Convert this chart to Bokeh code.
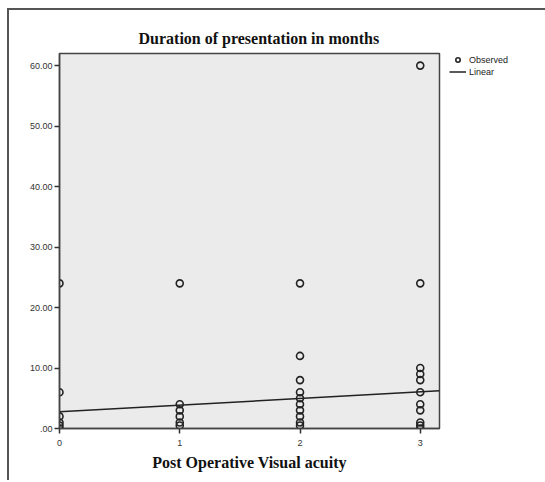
from bokeh.plotting import figure
from bokeh.models import Range1d, FixedTicker, Legend, LegendItem, ColumnDataSource
from bokeh.embed import file_html
from bokeh.resources import INLINE

# Observed data (Post Operative Visual acuity vs duration in months)
acuity_0 = [24, 6, 2, 1, 0.5, 0]
acuity_1 = [24, 4, 3, 2, 1, 0.5]
acuity_2 = [24, 12, 8, 6, 5, 4, 3, 2, 1, 0.5]
acuity_3 = [60, 24, 10, 9, 8, 6, 4, 3, 1, 0.5, 0]
# Linear fit
fit_intercept = 2.75
fit_slope = 1.1
fit_x = [0, 3.16]

y_ticks = [0, 10, 20, 30, 40, 50, 60]
y_tick_labels = [".00", "10.00", "20.00", "30.00", "40.00", "50.00", "60.00"]
x_ticks = [0, 1, 2, 3]

xs, ys = [], []
for xv, vals in zip(x_ticks, [acuity_0, acuity_1, acuity_2, acuity_3]):
    xs += [xv] * len(vals)
    ys += vals
src = ColumnDataSource(dict(x=xs, y=ys))
line_src = ColumnDataSource(dict(x=fit_x, y=[fit_intercept + fit_slope * v for v in fit_x]))

p = figure(output_backend="svg", toolbar_location=None,
           x_range=Range1d(0, 3.16), y_range=Range1d(0, 62),
           frame_width=380, frame_height=375,
           min_border_left=50, min_border_top=43, min_border_bottom=52, min_border_right=98)

p.title.text = "Duration of presentation in months"
p.title.text_font = "Liberation Serif"
p.title.text_font_size = "16px"
p.title.text_font_style = "bold"
p.title.text_color = "#111111"
p.title.align = "left"
p.title.offset = 79
p.title.standoff = 14

p.background_fill_color = "#ebebeb"
p.border_fill_color = "white"
p.outline_line_color = "#444444"
p.outline_line_width = 1.5
p.grid.visible = False

for ax in (p.xaxis[0], p.yaxis[0]):
    ax.axis_line_color = "#444444"
    ax.axis_line_width = 1.5
    ax.major_tick_line_color = "#333333"
    ax.major_tick_line_width = 1.5
    ax.major_tick_out = 5
    ax.major_tick_in = 0
    ax.minor_tick_line_color = None
    ax.major_label_text_font = "Liberation Sans"
    ax.major_label_text_font_size = "9px"
    ax.major_label_text_color = "#333333"

p.yaxis.ticker = FixedTicker(ticks=y_ticks)
p.yaxis.major_label_overrides = {t: l for t, l in zip(y_ticks, y_tick_labels)}
p.yaxis.major_label_standoff = 2
p.xaxis.ticker = FixedTicker(ticks=x_ticks)
p.xaxis.major_label_standoff = 6
p.xaxis.axis_label = "Post Operative Visual acuity"
p.xaxis.axis_label_text_font = "Liberation Serif"
p.xaxis.axis_label_text_font_size = "16px"
p.xaxis.axis_label_text_font_style = "bold"
p.xaxis.axis_label_text_color = "#111111"
p.xaxis.axis_label_standoff = 5

lr = p.line("x", "y", source=line_src, line_color="#222222", line_width=1.5)
sr = p.scatter("x", "y", source=src, marker="circle", size=7, fill_color=None,
               line_color="#222222", line_width=1.6)

legend = Legend(items=[LegendItem(label="Observed", renderers=[sr]),
                       LegendItem(label="Linear", renderers=[lr])],
                location=(10, 351), orientation="vertical")
legend.label_text_font = "Liberation Sans"
legend.label_text_font_size = "9px"
legend.label_text_color = "#222222"
legend.glyph_width = 17
legend.glyph_height = 11
legend.label_height = 11
legend.label_standoff = 3
legend.spacing = 1
legend.padding = 0
legend.margin = 10
legend.border_line_color = None
legend.background_fill_alpha = 0
p.add_layout(legend, "right")

p.styles = {"border-top": "2px solid #555555", "border-left": "2px solid #555555",
            "margin-left": "7px", "margin-top": "8px"}

open("out.html", "w").write(file_html(p, INLINE))
